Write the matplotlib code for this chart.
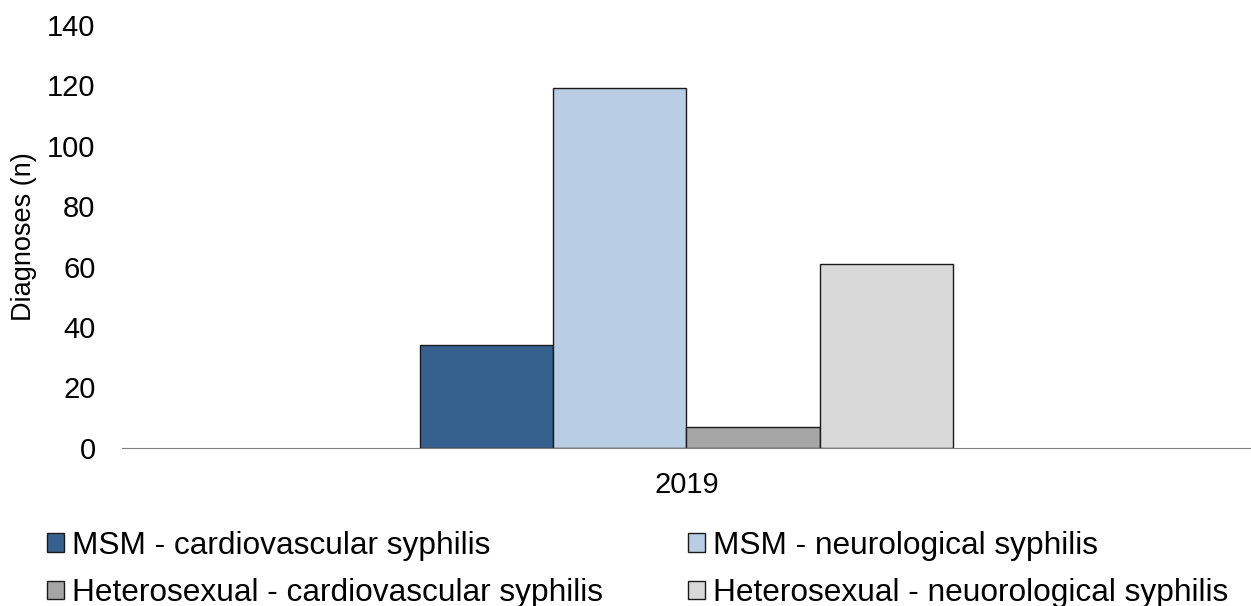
import numpy as np
import matplotlib
matplotlib.use("Agg")
from matplotlib import pyplot as plt

plt.rcParams['font.family'] = ['Liberation Sans', 'DejaVu Sans']

categories = ["2019"]
series = ["MSM - cardiovascular syphilis", "MSM - neurological syphilis",
          "Heterosexual - cardiovascular syphilis", "Heterosexual - neuorological syphilis"]
values = [34, 119, 7, 61]
colors = ["#36618f", "#b9cde4", "#a6a6a6", "#d9d9d9"]

fig = plt.figure(figsize=(12.51, 6.06), dpi=100)
ax = fig.add_axes([0.0975, 0.261, 0.9025, 0.698])

w = 0.118
offsets = (np.arange(len(series)) - 1.5) * w
for off, v, c, lab in zip(offsets, values, colors, series):
    ax.bar(0 + off, v, width=w, color=c, edgecolor="#1a1a1a", linewidth=1, label=lab, zorder=2)

ax.set_xlim(-0.5, 0.5)
ax.set_ylim(0, 140)
ax.set_yticks(np.arange(0, 141, 20))
ax.set_xticks([0])
ax.set_xticklabels(categories)
ax.tick_params(length=0, labelsize=21)
ax.tick_params(axis='x', pad=17)
ax.tick_params(axis='y', pad=19)
for s in ["top", "right", "left"]:
    ax.spines[s].set_visible(False)
ax.spines["bottom"].set_color("#808080")
ax.set_ylabel("Diagnoses (n)", fontsize=19.5)
ax.yaxis.set_label_coords(-0.075, 0.5)

handles, labels = ax.get_legend_handles_labels()
order = [0, 2, 1, 3]
fig.legend([handles[i] for i in order], [labels[i] for i in order], ncol=2,
           loc="upper left", bbox_to_anchor=(0.0376, 0.124),
           frameon=False, fontsize=22.8, handlelength=0.53, handleheight=0.53,
           handletextpad=0.25, columnspacing=2.7, labelspacing=0.55,
           borderpad=0, borderaxespad=0)

fig.savefig("out.png", dpi=100)
